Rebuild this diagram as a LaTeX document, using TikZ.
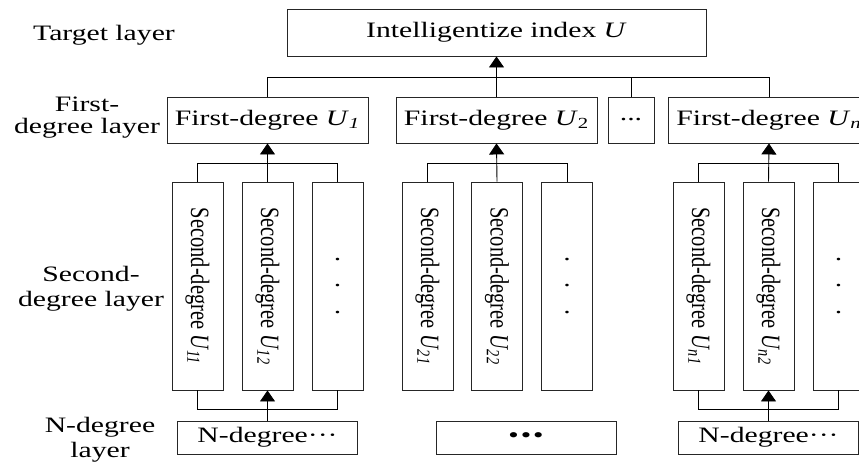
\documentclass[tikz,border=0pt]{standalone}
\usepackage{graphicx}
\usepackage{fontspec}
\setmainfont{Liberation Serif}
\usetikzlibrary{arrows.meta}
\newcommand{\htext}[1]{\scalebox{1.35}[1]{#1}}
\newcommand{\vtext}[1]{\rotatebox{-90}{\scalebox{0.93}[1.2]{#1}}}
\newcommand{\isub}[1]{\textsubscript{\textit{#1}}}
\tikzstyle{box}=[draw=black!85,line width=0.9pt,inner sep=0pt]
\tikzstyle{topbox}=[box,minimum width=419pt,minimum height=47pt]
\tikzstyle{fbox}=[box,minimum width=201pt,minimum height=46pt]
\tikzstyle{dbox}=[box,minimum width=46pt,minimum height=46pt]
\tikzstyle{sbox}=[box,minimum width=51pt,minimum height=208pt]
\tikzstyle{dots}=[sbox,align=center,font=\fontsize{22}{26.5}\selectfont]
\tikzstyle{nbox}=[box,minimum width=180pt,minimum height=33pt]
\tikzstyle{lbl}=[align=center,inner sep=0pt]
\tikzstyle{arr}=[-{Triangle[width=15pt,length=11pt]}]

\begin{document}
\begin{tikzpicture}[x=1pt,y=-1pt,line width=0.9pt,
  every node/.style={font=\fontsize{22}{24}\selectfont}]
  \useasboundingbox (0,0) rectangle (859,461);
  \clip (0,0) rectangle (859,461);
  \coordinate (topbus) at (0,77);
  \coordinate (upbus) at (0,163);
  \coordinate (lowbus) at (0,409);
  % layer names
  \node [style=lbl] (tl) at (104,35) {\htext{Target layer}};
  \node [style=lbl,font=\fontsize{22}{22}\selectfont] (fl) at (87,118) {\htext{First-}\\\htext{degree layer}};
  \node [style=lbl,font=\fontsize{22}{25}\selectfont] (sl) at (91,289) {\htext{Second-}\\\htext{degree layer}};
  \node [style=lbl,font=\fontsize{22}{25}\selectfont] (nl) at (100,440) {\htext{N-degree}\\\htext{layer}};
  % target and first-degree
  \node [style=topbox] (top) at (496.5,32.5) {\htext{Intelligentize index \textit{U}}};
  \node [style=fbox] (f1) at (267.5,120) {\htext{First-degree \textit{U}\isub{1}}};
  \node [style=fbox] (f2) at (496.5,120) {\htext{First-degree \textit{U}\textsubscript{2}}};
  \node [style=dbox] (fd) at (631,120) {\htext{...}};
  \node [style=fbox] (fn) at (769,120) {\htext{First-degree \textit{U}\isub{n}}};
  % second-degree
  \node [style=sbox] (s11) at (197.5,286) {\vtext{Second-degree \textit{U}\isub{11}}};
  \node [style=sbox] (s12) at (267.5,286) {\vtext{Second-degree \textit{U}\isub{12}}};
  \node [style=dots] (s13) at (337.5,286) {\htext{.}\\\htext{.}\\\htext{.}};
  \node [style=sbox] (s21) at (427.5,286) {\vtext{Second-degree \textit{U}\isub{21}}};
  \node [style=sbox] (s22) at (497,286) {\vtext{Second-degree \textit{U}\isub{22}}};
  \node [style=dots] (s23) at (567,286) {\htext{.}\\\htext{.}\\\htext{.}};
  \node [style=sbox] (s31) at (698.5,286) {\vtext{Second-degree \textit{U}\isub{n1}}};
  \node [style=sbox] (s32) at (768.5,286) {\vtext{Second-degree \textit{U}\isub{n2}}};
  \node [style=dots] (s33) at (838.5,286) {\htext{.}\\\htext{.}\\\htext{.}};
  % n-degree
  \node [style=nbox] (n1) at (267.5,437.5) {\htext{N-degree\textperiodcentered\textperiodcentered\textperiodcentered}};
  \node [style=nbox] (n2) at (526,437.5) {\htext{\textbullet\kern1.5pt\textbullet\kern1.5pt\textbullet}};
  \node [style=nbox] (n3) at (768.5,437.5) {\htext{N-degree\textperiodcentered\textperiodcentered\textperiodcentered}};
  % connectors
  \draw (f1.north) |- (topbus -| fn.north) -- (fn.north);
  \draw (fd.north) to (topbus -| fd.north);
  \draw [style=arr] (f2.north) to (top.south);
  \draw (s11.north) |- (upbus -| s13.north) -- (s13.north);
  \draw [style=arr] (s12.north) to (f1.south);
  \draw (s21.north) |- (upbus -| s23.north) -- (s23.north);
  \draw [style=arr] (s22.north) to (f2.south);
  \draw (s31.north) |- (upbus -| s33.north) -- (s33.north);
  \draw [style=arr] (s32.north) to (fn.south);
  \draw (s11.south) |- (lowbus -| s13.south) -- (s13.south);
  \draw [style=arr] (n1.north) to (s12.south);
  \draw (s31.south) |- (lowbus -| s33.south) -- (s33.south);
  \draw [style=arr] (n3.north) to (s32.south);
\end{tikzpicture}
\end{document}
